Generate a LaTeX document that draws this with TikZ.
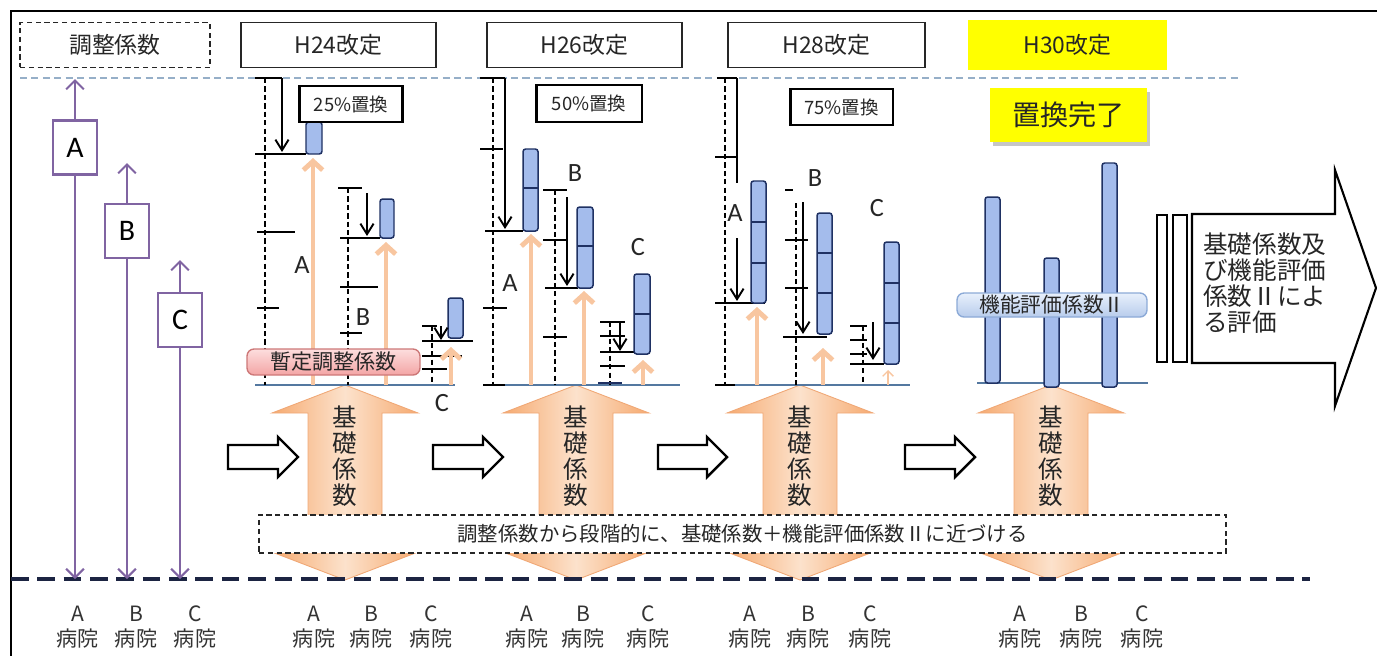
\documentclass[tikz,border=0pt]{standalone}
\usepackage{fontspec}
\setmainfont{Noto Sans CJK JP}
\newfontfamily\latfont{Carlito}
\usepackage{xcolor}
\usepackage{tikz}
\usetikzlibrary{arrows.meta}
\usetikzlibrary{positioning}

\definecolor{purp}{RGB}{128,100,162}
\definecolor{barfill}{RGB}{164,188,236}
\definecolor{barline}{RGB}{31,49,99}
\definecolor{basecol}{RGB}{84,120,160}
\definecolor{arrowor}{RGB}{248,198,160}
\definecolor{peachL}{RGB}{252,226,204}
\definecolor{peachD}{RGB}{246,170,112}
\definecolor{peachB}{RGB}{240,168,118}
\definecolor{navy}{RGB}{28,36,66}
\definecolor{topdash}{RGB}{150,175,200}
\definecolor{yel}{RGB}{255,255,0}
\definecolor{pinkL}{RGB}{253,222,222}
\definecolor{pinkD}{RGB}{243,165,165}
\definecolor{pinkB}{RGB}{205,120,120}
\definecolor{kinoL}{RGB}{232,240,252}
\definecolor{kinoD}{RGB}{184,204,236}
\definecolor{kinoB}{RGB}{140,170,215}

\tikzset{
  hdrbox/.style={draw=black!85, line width=1.1pt, minimum height=0.9cm, inner sep=0pt,
    font=\fontsize{13}{15}\selectfont, text=black!85},
  pctbox/.style={draw=black, line width=1.7pt, fill=white, inner sep=0pt,
    font=\fontsize{10.5}{12}\selectfont, text=black!85},
  pbox/.style={draw=purp, line width=1.2pt, fill=white, minimum width=0.88cm,
    minimum height=1.08cm, inner sep=0pt, font=\latfont\fontsize{17}{19}\selectfont},
  parrow/.style={draw=purp, line width=1.2pt, -{Straight Barb[length=5pt,width=10pt]}},
  colbar/.style={draw=barline, fill=barfill, line width=0.85pt, rounded corners=1.5pt},
  divline/.style={draw=barline, line width=0.85pt},
  guide/.style={line width=0.6pt, dash pattern=on 3pt off 1.8pt},
  tickline/.style={line width=0.6pt},
  basel/.style={draw=basecol, line width=1.6pt},
  orarrow/.style={draw=arrowor, line width=2.8pt, -{Straight Barb[length=5pt,width=11pt]}},
  blkarrow/.style={line width=1.1pt, -{Straight Barb[length=6pt,width=7.5pt]}},
  lbl/.style={font=\latfont\fontsize{15}{17}\selectfont, text=black!85, inner sep=0pt},
  bigarrow/.style={draw=peachB, line width=0.5pt, left color=peachD, right color=peachD,
    middle color=peachL},
  kiso/.style={align=center, inner sep=0pt, font=\fontsize{14}{14.8}\selectfont, text=black!85},
  hollow/.style={draw=black, line width=1.4pt, fill=white, line join=miter},
  hosp/.style={align=center, inner sep=0pt, font=\fontsize{12}{14.2}\selectfont, text=black!80},
}

\begin{document}
\begin{tikzpicture}[x=0.02cm,y=-0.02cm]
\useasboundingbox (0,0) rectangle (1377,656);
\draw[line width=1.5pt] (11,656) -- (11,11) -- (1377,11);

% headers
\node[hdrbox, dash pattern=on 3pt off 2pt, minimum width=3.8cm] (hchosei) at (115,45) {調整係数};
\node[hdrbox, minimum width=3.9cm] (h24) at (338.5,45) {H24改定};
\node[hdrbox, minimum width=3.9cm] (h26) at (584.5,45) {H26改定};
\node[hdrbox, minimum width=3.94cm] (h28) at (826.5,45) {H28改定};
\node[hdrbox, draw=none, fill=yel, minimum width=3.98cm, minimum height=1.0cm] (h30) at (1067.5,45) {H30改定};
\draw[draw=topdash, line width=1.1pt, dash pattern=on 4pt off 2.5pt] (20,78) -- (1240,78);

% big arrows of the base coefficient
\draw[bigarrow] (345,385) -- (418,413) -- (382,413) -- (382,552) -- (418,552) -- (345,580) -- (272,552) -- (308,552) -- (308,413) -- (272,413) -- cycle;
\draw[bigarrow] (576,385) -- (649,413) -- (613,413) -- (613,552) -- (649,552) -- (576,580) -- (503,552) -- (539,552) -- (539,413) -- (503,413) -- cycle;
\draw[bigarrow] (800,385) -- (873,413) -- (837,413) -- (837,552) -- (873,552) -- (800,580) -- (727,552) -- (763,552) -- (763,413) -- (727,413) -- cycle;
\draw[bigarrow] (1051,385) -- (1124,413) -- (1088,413) -- (1088,552) -- (1124,552) -- (1051,580) -- (978,552) -- (1014,552) -- (1014,413) -- (978,413) -- cycle;
\node[kiso] (k24) at (345,456) {基\\礎\\係\\数};
\node[kiso] (k26) at (576,456) {基\\礎\\係\\数};
\node[kiso] (k28) at (800,456) {基\\礎\\係\\数};
\node[kiso] (k30) at (1051,456) {基\\礎\\係\\数};

\node[draw=black!85, line width=0.8pt, dash pattern=on 3pt off 2pt, fill=white, minimum width=19.34cm,
  minimum height=0.76cm, inner sep=0pt, font=\fontsize{11.6}{13}\selectfont, text=black!85] (plan) at (742.5,534)
  {調整係数から段階的に、基礎係数＋機能評価係数Ⅱに近づける};
\draw[draw=navy, line width=2pt, dash pattern=on 10pt off 5pt] (11,579) -- (1310,579);

% adjustment coefficient
\node[pbox] (pA) at (75,147.5) {A};
\node[pbox] (pB) at (127,231) {B};
\node[pbox] (pC) at (180,320) {C};
\coordinate (pAtop) at (75,79);
\coordinate (pAbot) at (75,579);
\coordinate (pBtop) at (127,163);
\coordinate (pBbot) at (127,579);
\coordinate (pCtop) at (180,260);
\coordinate (pCbot) at (180,579);
\draw[parrow] (pA) -- (pAtop);
\draw[parrow] (pA) -- (pAbot);
\draw[parrow] (pB) -- (pBtop);
\draw[parrow] (pB) -- (pBbot);
\draw[parrow] (pC) -- (pCtop);
\draw[parrow] (pC) -- (pCbot);

% H24
\draw[basel] (255,385) -- (455,385);
\draw[guide] (265,78) -- (265,385);
\draw[tickline] (255,78) -- (282,78);
\draw[tickline] (255,154) -- (306,154);
\draw[tickline] (257,232) -- (295,232);
\draw[tickline] (257,308) -- (279,308);
\draw[orarrow] (313,385) -- (313,158);
\draw[colbar] (306,122) rectangle (322,154);
\draw[blkarrow] (282,78) -- (282,152);
\node[lbl] (a24) at (302,265) {A};
\draw[guide] (348,188) -- (348,385);
\draw[tickline] (338,188) -- (362,188);
\draw[tickline] (340,238) -- (380,238);
\draw[tickline] (340,287) -- (378,287);
\draw[tickline] (340,333) -- (362,333);
\draw[orarrow] (386,385) -- (386,242);
\draw[colbar] (380,199) rectangle (394,238);
\draw[blkarrow] (367,193) -- (367,236);
\node[lbl] (b24) at (363,317) {B};
\draw[guide] (432,326) -- (432,385);
\draw[tickline] (422,326) -- (437,326);
\draw[tickline] (422,341) -- (473,341);
\draw[tickline] (422,356) -- (462,356);
\draw[tickline] (422,369) -- (447,369);
\draw[orarrow] (451,385) -- (451,347);
\draw[colbar] (448,298) rectangle (463,338);
\draw[blkarrow] (441,326) -- (441,340);
\node[lbl] (c24) at (442,403) {C};
\node[pctbox, minimum width=2.08cm, minimum height=0.72cm] (p25) at (351,104) {25\%置換};
\node[draw=pinkB, line width=0.8pt, rounded corners=4pt, top color=pinkL, bottom color=pinkD,
  minimum width=3.46cm, minimum height=0.52cm, inner sep=0pt, font=\fontsize{12}{13}\selectfont,
  text=black!85] (zantei) at (333.5,362) {暫定調整係数};

% H26
\draw[basel] (503,385) -- (680,385);
\draw[guide] (493,78) -- (493,385);
\draw[tickline] (480,78) -- (505,78);
\draw[tickline] (480,149) -- (503,149);
\draw[tickline] (485,231) -- (523,231);
\draw[tickline] (483,308) -- (507,308);
\draw[tickline] (483,385) -- (505,385);
\draw[orarrow] (531,385) -- (531,234);
\draw[colbar] (523,149) rectangle (538,231);
\draw[divline] (523,188) -- (538,188);
\draw[blkarrow] (505,78) -- (505,229);
\node[lbl] (a26) at (510,283) {A};
\draw[guide] (555,190) -- (555,385);
\draw[tickline] (543,190) -- (567,190);
\draw[tickline] (543,240) -- (567,240);
\draw[tickline] (545,288) -- (578,288);
\draw[tickline] (543,337) -- (567,337);
\draw[orarrow] (584,385) -- (584,291);
\draw[colbar] (577,207) rectangle (593,288);
\draw[divline] (577,246) -- (593,246);
\draw[blkarrow] (567,197) -- (567,286);
\node[lbl] (b26) at (575,173) {B};
\draw[guide] (610,322) -- (610,385);
\draw[tickline] (600,322) -- (625,322);
\draw[tickline] (600,336) -- (625,336);
\draw[tickline] (600,352) -- (638,352);
\draw[tickline] (600,366) -- (625,366);
\draw[line width=1.6pt, draw=barline] (598,383) -- (622,383);
\draw[orarrow] (643,385) -- (643,360);
\draw[colbar] (634,274) rectangle (650,354);
\draw[divline] (634,314) -- (650,314);
\draw[blkarrow] (620,322) -- (620,351);
\node[lbl] (c26) at (638,247) {C};
\node[pctbox, minimum width=2.12cm, minimum height=0.74cm] (p50) at (589,103.5) {50\%置換};

% H28
\draw[basel] (733,385) -- (910,385);
\draw[guide] (725,78) -- (725,385);
\draw[tickline] (717,78) -- (737,78);
\draw[tickline] (715,157) -- (737,157);
\draw[tickline] (715,303) -- (765,303);
\draw[tickline] (715,385) -- (735,385);
\draw[line width=1.1pt] (737,78) -- (737,183);
\draw[orarrow] (757,385) -- (757,307);
\draw[colbar] (751,181) rectangle (766,303);
\draw[divline] (751,222) -- (766,222);
\draw[divline] (751,263) -- (766,263);
\draw[blkarrow] (737,238) -- (737,301);
\node[lbl] (a28) at (735,213) {A};
\draw[tickline] (785,190) -- (793,190);
\draw[guide] (796,203) -- (796,385);
\draw[tickline] (785,240) -- (808,240);
\draw[tickline] (785,288) -- (808,288);
\draw[tickline] (783,337) -- (827,337);
\draw[orarrow] (823,385) -- (823,348);
\draw[colbar] (817,213) rectangle (832,334);
\draw[divline] (817,253) -- (832,253);
\draw[divline] (817,293) -- (832,293);
\draw[blkarrow] (803,202) -- (803,334);
\node[lbl] (b28) at (815,178) {B};
\draw[guide] (863,326) -- (863,385);
\draw[tickline] (850,326) -- (867,326);
\draw[tickline] (850,340) -- (867,340);
\draw[tickline] (850,354) -- (867,354);
\draw[tickline] (850,364) -- (884,364);
\draw[draw=arrowor, line width=0.8pt, -{Straight Barb[length=3pt,width=6pt]}] (888,385) -- (888,370);
\draw[colbar] (884,242) rectangle (899,364);
\draw[divline] (884,283) -- (899,283);
\draw[divline] (884,323) -- (899,323);
\draw[blkarrow] (873,322) -- (873,360);
\node[lbl] (c28) at (877,208) {C};
\node[pctbox, minimum width=2.06cm, minimum height=0.72cm] (p75) at (841.5,107) {75\%置換};

% H30
\draw[fill=gray!45, draw=none] (993,92) rectangle (1150,146);
\node[fill=yel, minimum width=3.14cm, minimum height=1.08cm, inner sep=0pt,
  font=\fontsize{16}{18}\selectfont, text=black!85] (kanryo) at (1068.5,115) {置換完了};
\draw[draw=basecol, line width=1.1pt] (977,383) -- (1148,383);
\draw[colbar] (985,197) rectangle (1000,383);
\draw[colbar] (1044,258) rectangle (1059,387);
\draw[colbar] (1102,163) rectangle (1117,387);
\node[draw=kinoB, line width=0.8pt, rounded corners=4pt, top color=kinoL, bottom color=kinoD,
  minimum width=3.8cm, minimum height=0.48cm, inner sep=0pt, font=\fontsize{11.8}{13}\selectfont,
  text=black!85] (kino) at (1052,305) {機能評価係数Ⅱ};

% steps
\draw[hollow] (228,445) -- (278,445) -- (278,437) -- (298,457) -- (278,477) -- (278,469) -- (228,469) -- cycle;
\draw[hollow] (433,445) -- (483,445) -- (483,437) -- (503,457) -- (483,477) -- (483,469) -- (433,469) -- cycle;
\draw[hollow] (658,445) -- (707,445) -- (707,437) -- (727,457) -- (707,477) -- (707,469) -- (658,469) -- cycle;
\draw[hollow] (905,445) -- (955,445) -- (955,437) -- (975,457) -- (955,477) -- (955,469) -- (905,469) -- cycle;

% evaluation
\draw[hollow, line width=1.2pt] (1157,215) rectangle (1167,362);
\draw[hollow, line width=1.2pt] (1173,215) rectangle (1187,362);
\draw[hollow, line width=1.2pt] (1192,214) -- (1335,214) -- (1335,170) -- (1376,288) -- (1335,406) -- (1335,363) -- (1192,363) -- cycle;
\node[align=left, anchor=west, inner sep=0pt, font=\fontsize{14}{14.8}\selectfont, text=black!85] (hyoka) at (1203,283)
  {基礎係数及\\び機能評価\\係数Ⅱによ\\る評価};

% hospitals
\node[hosp] (hosA1) at (78,627) {A\\病院};
\node[hosp] (hosB1) at (136,627) {B\\病院};
\node[hosp] (hosC1) at (195,627) {C\\病院};
\node[hosp] (hosA2) at (314,627) {A\\病院};
\node[hosp] (hosB2) at (371,627) {B\\病院};
\node[hosp] (hosC2) at (431,627) {C\\病院};
\node[hosp] (hosA3) at (527,627) {A\\病院};
\node[hosp] (hosB3) at (583,627) {B\\病院};
\node[hosp] (hosC3) at (648,627) {C\\病院};
\node[hosp] (hosA4) at (750,627) {A\\病院};
\node[hosp] (hosB4) at (808,627) {B\\病院};
\node[hosp] (hosC4) at (870,627) {C\\病院};
\node[hosp] (hosA5) at (1020,627) {A\\病院};
\node[hosp] (hosB5) at (1081,627) {B\\病院};
\node[hosp] (hosC5) at (1142,627) {C\\病院};
\end{tikzpicture}
\end{document}
